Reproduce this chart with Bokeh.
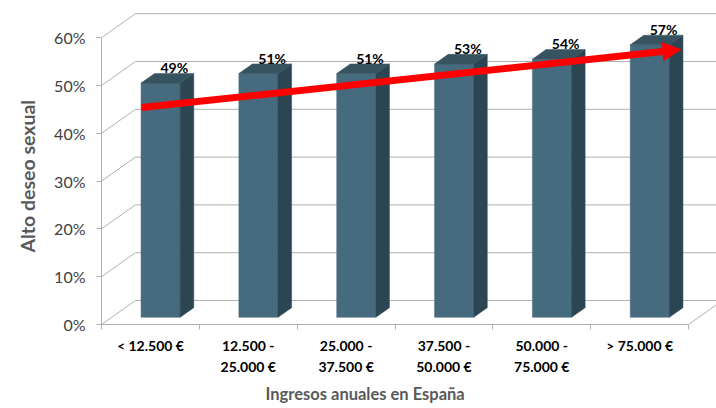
import numpy as np
from bokeh.plotting import figure
from bokeh.models import Range1d, FixedTicker, PrintfTickFormatter, Arrow, NormalHead, Title
from bokeh.core.properties import value
from bokeh.embed import file_html
from bokeh.resources import INLINE

# ---------------- data ----------------
categories = ["< 12.500 €", "12.500 -\n25.000 €", "25.000 -\n37.500 €",
              "37.500 -\n50.000 €", "50.000 -\n75.000 €", "> 75.000 €"]
values = [49, 51, 51, 53, 54, 57]
value_labels = ["49%", "51%", "51%", "53%", "54%", "57%"]
y_ticks = [0, 10, 20, 30, 40, 50, 60]
x_title = "Ingresos anuales en España"
y_title = "Alto deseo sexual"
trend_start = [0.41, 45.4]   # hand-drawn red arrow (category units, %)
trend_end = [5.92, 57.5]

# ---------------- style / geometry ----------------
FONT = "Lato"
FRONT = "#466b7e"
SIDE = "#2c4552"
TOPC = "#37535f"
GRID = "#b0b0b0"
PX_X, PX_Y = 98.0, 4.78          # pixels per category / per percent
DX, DY = 34 / PX_X, 24 / PX_Y    # 3-D depth offset in data units
F0, F1 = 0.3, 0.7                # bar depth (front / back fraction)
W = 0.40                         # bar width (category units)

n = len(values)
vals = np.array(values, dtype=float)

W_FIG, H_FIG = 716, 408
BL, BB = 100, 84
x_end = (W_FIG - BL) / PX_X
y_end = (H_FIG - BB) / PX_Y

p = figure(width=W_FIG, height=H_FIG, output_backend="svg", toolbar_location=None,
           x_range=Range1d(0, x_end), y_range=Range1d(0, y_end),
           min_border_left=BL, min_border_right=0, min_border_top=0, min_border_bottom=BB)
p.xgrid.visible = False
p.ygrid.visible = False
p.outline_line_color = None
p.background_fill_color = "white"
p.border_fill_color = "white"

# ---------------- 3-D walls / grid ----------------
gx0, gy0, gx1, gy1 = [], [], [], []
for t in y_ticks:
    gx0 += [0, DX]
    gy0 += [t, t + DY]
    gx1 += [DX, x_end]
    gy1 += [t + DY, t + DY]
gx0.append(n); gy0.append(0); gx1.append(n + DX); gy1.append(DY)
p.segment(gx0, gy0, gx1, gy1, line_color=GRID, line_width=1)

# ---------------- bars ----------------
xs = np.arange(n) + 0.5
left = xs - W / 2 + F0 * DX
right = xs + W / 2 + F0 * DX
bottom = F0 * DY
top = vals + F0 * DY
d = F1 - F0

p.quad(left=left, right=right, bottom=bottom, top=top,
       fill_color=FRONT, line_color=FRONT, line_width=0.5)
side_xs = [[r, r + d * DX, r + d * DX, r] for r in right]
side_ys = [[bottom, bottom + d * DY, t + d * DY, t] for t in top]
p.patches(side_xs, side_ys, fill_color=SIDE, line_color=SIDE, line_width=0.5)
top_xs = [[l, r, r + d * DX, l + d * DX] for l, r in zip(left, right)]
top_ys = [[t, t, t + d * DY, t + d * DY] for t in top]
p.patches(top_xs, top_ys, fill_color=TOPC, line_color=TOPC, line_width=0.5)

# value labels
p.text(x=xs + F0 * DX + 0.14, y=vals + F1 * DY + 1.2, text=value_labels,
       text_font=value(FONT), text_font_style="bold", text_font_size="14px",
       text_align="center", text_baseline="alphabetic", text_color="#000000")

# ---------------- trend arrow ----------------
sx = (trend_end[0] - trend_start[0]) * PX_X
sy = (trend_end[1] - trend_start[1]) * PX_Y
L = float(np.hypot(sx, sy))
HEAD = 18
frac = 1 - (HEAD - 2) / L
shaft_x = [trend_start[0], trend_start[0] + frac * (trend_end[0] - trend_start[0])]
shaft_y = [trend_start[1], trend_start[1] + frac * (trend_end[1] - trend_start[1])]
p.line(shaft_x, shaft_y, line_color="#ff0000", line_width=7)
p.add_layout(Arrow(end=NormalHead(size=HEAD, fill_color="#ff0000", line_color="#ff0000", line_width=1),
                   x_start=trend_start[0], y_start=trend_start[1],
                   x_end=trend_end[0], y_end=trend_end[1],
                   line_alpha=0, line_width=1))

# ---------------- axes ----------------
xa = p.xaxis[0]
xa.ticker = FixedTicker(ticks=[float(x) for x in xs], minor_ticks=list(range(n + 1)))
xa.bounds = (0, n)
xa.major_label_overrides = {float(x): c for x, c in zip(xs, categories)}
xa.axis_line_color = GRID
xa.major_tick_out = 0
xa.major_tick_in = 0
xa.minor_tick_out = 5
xa.minor_tick_in = 0
xa.minor_tick_line_color = GRID
xa.major_label_standoff = 7
xa.major_label_text_font = FONT
xa.major_label_text_font_style = "bold"
xa.major_label_text_font_size = "14px"
xa.major_label_text_color = "#000000"
xa.major_label_text_line_height = 1.26

ya = p.yaxis[0]
ya.ticker = FixedTicker(ticks=y_ticks, minor_ticks=[])
ya.bounds = (0, max(y_ticks))
ya.formatter = PrintfTickFormatter(format="%d%%")
ya.axis_line_color = GRID
ya.major_tick_out = 5
ya.major_tick_in = 0
ya.major_tick_line_color = GRID
ya.minor_tick_out = 0
ya.minor_tick_in = 0
ya.major_label_standoff = 11
ya.major_label_text_font = FONT
ya.major_label_text_font_size = "16px"
ya.major_label_text_color = "#404040"

# axis titles
p.add_layout(Title(text=x_title, align="left", offset=164, standoff=9,
                   text_font=FONT, text_font_style="bold", text_font_size="16.5px",
                   text_color="#595959"), "below")
p.add_layout(Title(text=y_title, align="left", offset=72, standoff=26,
                   text_font=FONT, text_font_style="bold", text_font_size="19.5px",
                   text_color="#595959"), "left")

with open("out.html", "w") as f:
    f.write(file_html(p, INLINE))
